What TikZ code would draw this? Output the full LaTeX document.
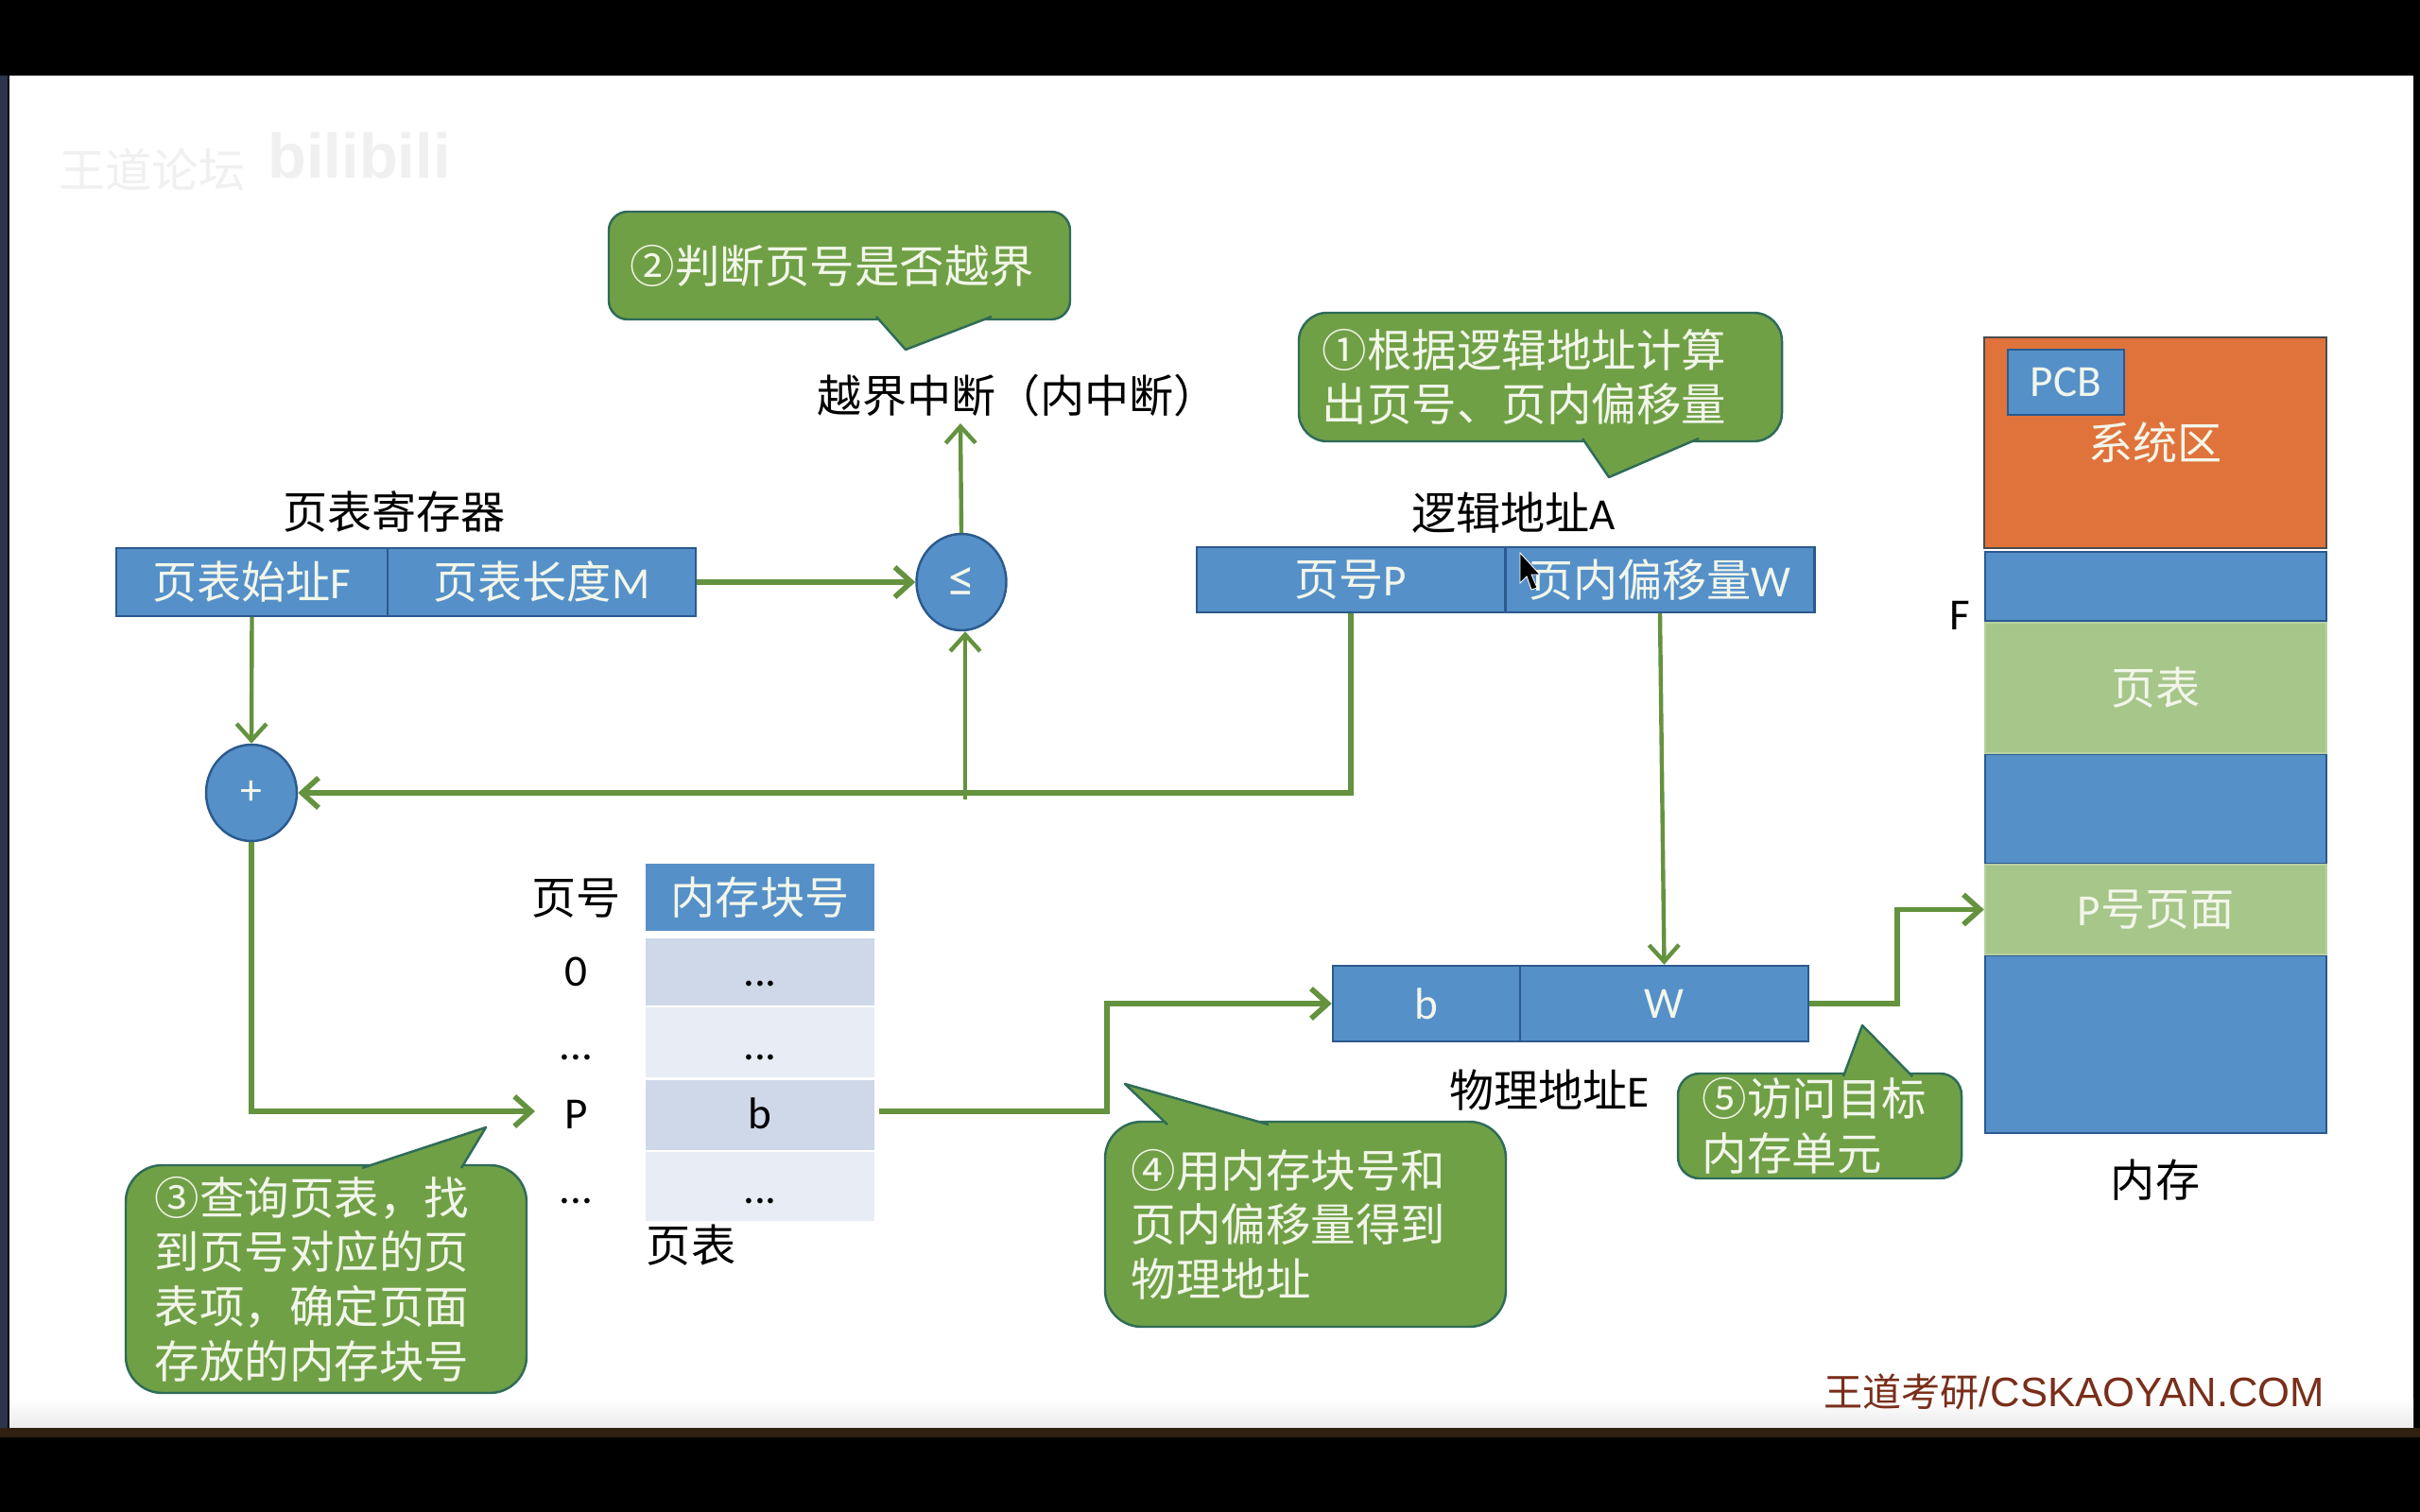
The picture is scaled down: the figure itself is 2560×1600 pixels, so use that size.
\documentclass[tikz,border=0pt]{standalone}
\usepackage{fontspec}
\usepackage{xcolor}
\usepackage{tikz}
\usetikzlibrary{arrows.meta,shapes.geometric}
\setmainfont{Noto Sans CJK SC}
\newfontfamily\latfont{Carlito}
\newfontfamily\brandfont{Liberation Sans}
\definecolor{barc}{HTML}{5590C8}
\definecolor{barl}{HTML}{2B5A8E}
\definecolor{flowc}{HTML}{64923E}
\definecolor{callc}{HTML}{70A046}
\definecolor{calll}{HTML}{2F6B58}
\definecolor{sysc}{HTML}{E0733B}
\definecolor{pagec}{HTML}{A6C68A}
\definecolor{rowa}{HTML}{CFD8E9}
\definecolor{rowb}{HTML}{E7ECF5}
\definecolor{softc}{HTML}{F2F6EA}
\definecolor{brandc}{HTML}{7A2E1A}
\definecolor{edgec}{HTML}{2C3550}
\newcommand{\lat}[1]{{\latfont #1}}
\newcommand{\dotmark}{{...}}
\newcommand{\tipmark}[3]{%
  \fill[callc] #1--#2--#3--cycle;
  \draw[calll,line width=.7pt,line join=round] #1--#2--#3;}
\tikzset{
  sized/.style 2 args={minimum width=#1*0.01cm,minimum height=#2*0.01cm,inner sep=0pt},
  barcell/.style={draw=barl,line width=.7pt,fill=barc,text=softc},
  memcell/.style={draw=barl,line width=.7pt,fill=barc,text=softc},
  pagecell/.style={draw=pagec!80!white,line width=.7pt,fill=pagec,text=softc},
  opcircle/.style={ellipse,draw=barl,line width=.7pt,fill=barc,text=softc,font=\fontsize{#1}{18pt}\selectfont\latfont},
  callout/.style={rounded corners=#1,draw=calll,line width=.7pt,fill=callc,text=softc,align=left,font=\fontsize{13.5pt}{16.4pt}\selectfont},
  flow/.style={flowc,line width=1.6pt,-{Straight Barb[length=5pt,width=9pt]}},
  flowthin/.style={flow,line width=1.25pt},
}
\begin{document}
\begin{tikzpicture}[x=0.01cm,y=-0.01cm,font=\fontsize{13.4pt}{16pt}\selectfont]
  \useasboundingbox (0,0) rectangle (2560,1600);
  \fill[black] (0,0) rectangle (2560,1600);
  \fill[white] (10,80) rectangle (2553,1511);
  \shade[top color=white,bottom color=black!8] (10,1480) rectangle (2553,1511);
  \fill[edgec] (0,80) rectangle (8,1511);
  \fill[black!75!brown] (0,1511) rectangle (2560,1521);

  \node[text=black!6,font=\fontsize{14pt}{16pt}\selectfont] (wmname) at (161,180) {王道论坛};
  \node[text=black!6,font=\fontsize{19pt}{24pt}\selectfont\brandfont\bfseries] (wmsite) at (380,165) {bilibili};

  \node[callout=5.7pt,sized={488}{114},text width=4.42cm] (calltwo) at (888,281) {②判断页号是否越界};
  \tipmark{(927,335)}{(958,370)}{(1049,335)}
  \node[callout=8.5pt,sized={511}{136},text width=4.61cm] (callone) at (1629.5,399) {①根据逻辑地址计算\\出页号、页内偏移量};
  \tipmark{(1674,464)}{(1702,505)}{(1797,464)}
  \node[callout=11pt,sized={424}{241},text width=3.62cm] (callthree) at (345,1353.5) {③查询页表，找\\到页号对应的页\\表项，确定页面\\存放的内存块号};
  \tipmark{(383,1236)}{(514,1193)}{(488,1236)}
  \node[callout=11pt,sized={424}{217},text width=3.68cm] (callfour) at (1381,1295.5) {④用内存块号和\\页内偏移量得到\\物理地址};
  \tipmark{(1235,1190)}{(1190,1147)}{(1342,1190)}
  \node[callout=6.5pt,sized={300}{111},text width=2.48cm] (callfive) at (1925,1191.5) {⑤访问目标\\内存单元};
  \tipmark{(1950,1139)}{(1970,1085)}{(2023,1139)}

  \node (bound) at (1077,419) {越界中断（内中断）};
  \node (regname) at (417,542) {页表寄存器};
  \node (addrname) at (1601,543) {逻辑地址\lat{A}};
  \node (physname) at (1639,1154) {物理地址\lat{E}};

  \node[barcell,sized={287}{72}] (regf) at (266.5,616) {页表始址\lat{F}};
  \node[barcell,sized={326}{72}] (regm) at (573,616) {页表长度\lat{M}};
  \node[barcell,sized={326.5}{69}] (pagep) at (1429,613.5) {页号\lat{P}};
  \node[barcell,sized={326.5}{69}] (offw) at (1756,613.5) {页内偏移量\lat{W}};
  \node[barcell,sized={198}{80},font=\fontsize{13.4pt}{16pt}\selectfont\latfont] (pb) at (1509,1062) {b};
  \node[barcell,sized={305}{80},font=\fontsize{13.4pt}{16pt}\selectfont\latfont] (pw) at (1760.5,1062) {W};

  \node[opcircle=16pt,sized={95}{102}] (le) at (1017,616) {≤};
  \node[opcircle=13pt,sized={96}{102}] (plus) at (266,839) {+};

  \node[fill=barc,text=softc,sized={242}{71.5}] (head) at (804,949.5) {内存块号};
  \node (headno) at (609.5,951) {页号};
  \foreach \i/\y/\h/\c in {0/1028.5/71/rowa,1/1103/74/rowb,2/1180/73.5/rowa,3/1255.5/73/rowb}
    \node[fill=\c,sized={242}{\h}] (cell\i) at (804,\y) {};
  \foreach \i/\y/\l/\v in {0/1043/0/\dotmark,1/1121/\dotmark/\dotmark,2/1194/P/b,3/1273/\dotmark/\dotmark}{
    \node[anchor=base,font=\fontsize{13.4pt}{16pt}\selectfont\latfont] (no\i) at (609.5,\y) {\l};
    \node[anchor=base,font=\fontsize{13.4pt}{16pt}\selectfont\latfont] (val\i) at (804,\y) {\v};}
  \node (tablename) at (731,1318) {页表};

  \node[fill=sysc,draw=black!70,line width=.6pt,text=softc,sized={362}{223}] (sysm) at (2280,468.5) {系统区};
  \node[barcell,sized={123}{69},font=\fontsize{13.4pt}{16pt}\selectfont\latfont] (pcb) at (2185.5,404.5) {PCB};
  \node[memcell,sized={361}{73}] (memone) at (2280.5,620.5) {};
  \node[memcell,sized={361}{116}] (memtwo) at (2280.5,856) {};
  \node[memcell,sized={361}{188}] (memthree) at (2280.5,1105) {};
  \node[pagecell,sized={361}{138}] (memtable) at (2280.5,728) {页表};
  \node[pagecell,sized={361}{95}] (mempage) at (2280.5,962.5) {\lat{P}号页面};
  \node[font=\fontsize{13.4pt}{16pt}\selectfont\latfont] (fmark) at (2073,651) {F};
  \node (memname) at (2280,1249) {内存};

  \coordinate (boundin) at (1016,448);
  \coordinate (lejoin) at (1021,846);
  \coordinate (pin) at (566,1176);
  \coordinate (bout) at (930,1176);

  \draw[flow] (regm.east) -- (le.west);
  \draw[flowthin] (le.north) -- (boundin);
  \draw[flowthin] (regf.south) -- (plus.north);
  \draw[flow] (pagep.south) |- (plus.east);
  \draw[flowthin] (lejoin) -- (lejoin |- le.south);
  \draw[flowthin] (offw.south) -- (pw.north);
  \draw[flow] (plus.south) |- (pin);
  \draw[flow] (bout) -- ++(241,0) |- (pb.west);
  \draw[flow] (pw.east) -- ++(93,0) |- (mempage.west);

  \draw[fill=black,draw=white,line width=.25pt] (1608,585)--(1608,617)--(1615,610)--(1620,624)--(1626,622)--(1620,608)--(1629,608)--cycle;

  \node[text=brandc] (brand) at (2194,1473) {\fontsize{11.7pt}{14pt}\selectfont 王道考研\fontsize{12.4pt}{14pt}\selectfont\brandfont /CSKAOYAN.COM};
\end{tikzpicture}
\end{document}
